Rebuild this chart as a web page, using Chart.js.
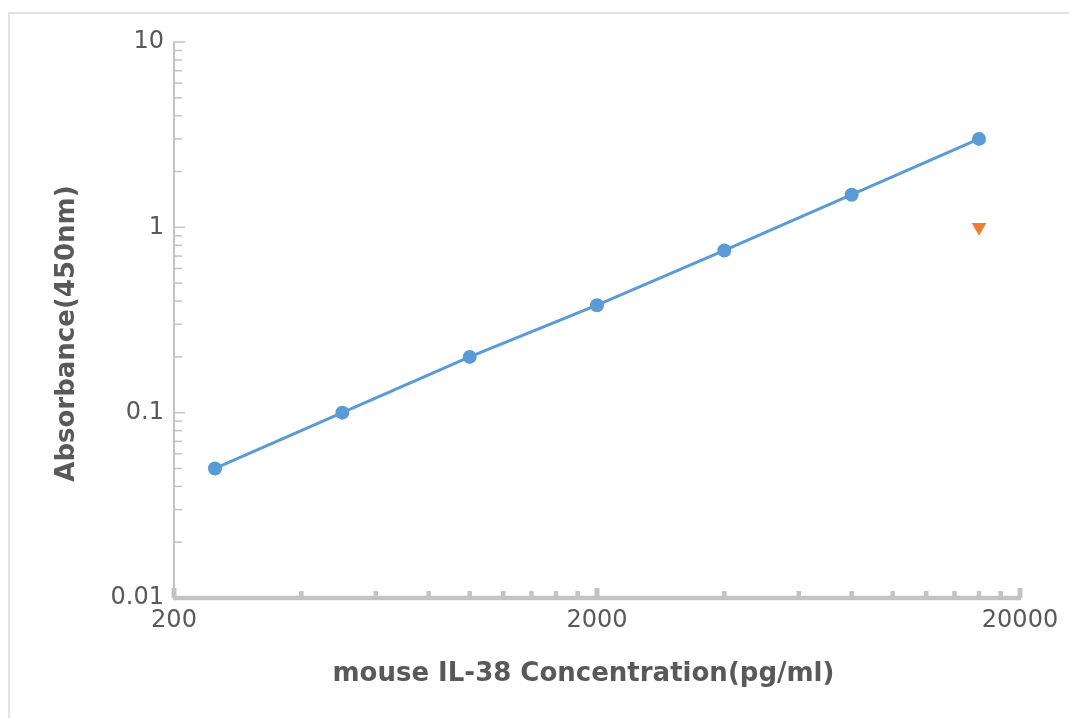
<!DOCTYPE html>
<html>
<head>
<meta charset="utf-8">
<title>mouse IL-38 standard curve</title>
<script src="https://cdn.jsdelivr.net/npm/chart.js@4.4.1/dist/chart.umd.min.js"></script>
<style>
  html, body { margin: 0; padding: 0; background: #fff; overflow: hidden; }
  #frame {
    position: absolute; left: 8px; top: 12px; width: 1080px; height: 720px;
    border-left: 2px solid #e2e2e2; border-top: 2px solid #e2e2e2;
  }
  #wrap { position: absolute; left: 0; top: 0; width: 1069px; height: 718px; }
</style>
</head>
<body>
<div id="frame"></div>
<div id="wrap"><canvas id="chart"></canvas></div>
<script>
// ── Data ────────────────────────────────────────────────────────────────────
const concentration = [250, 500, 1000, 2000, 4000, 8000, 16000];
const absorbance = [0.05, 0.1, 0.2, 0.38, 0.75, 1.5, 3.0];

const outlierConc = [16000];
const outlierAbs = [1.0];

const xTickLabels = [200, 2000, 20000];
const yTickLabels = [0.01, 0.1, 1, 10];

const xMinorTicks = [400, 600, 800, 1000, 1200, 1400, 1600, 1800,
                     4000, 6000, 8000, 10000, 12000, 14000, 16000, 18000];
const yMinorTicks = [0.02, 0.03, 0.04, 0.05, 0.06, 0.07, 0.08, 0.09,
                     0.2, 0.3, 0.4, 0.5, 0.6, 0.7, 0.8, 0.9,
                     2, 3, 4, 5, 6, 7, 8, 9];

const AXIS_GREY = "#c3c3c3";
const TEXT_GREY = "#595959";

// ── Axis lines + inward tick marks ──────────────────────────────────────────
const axisMarks = {
  id: "axisMarks",
  beforeDatasetsDraw(chart) {
    const { ctx, chartArea: { left, right, top, bottom }, scales } = chart;
    const xs = scales.x, ys = scales.y;
    ctx.save();
    ctx.fillStyle = AXIS_GREY;
    ctx.strokeStyle = AXIS_GREY;

    // y axis
    ctx.fillRect(left - 1, top, 2, bottom - top);
    ctx.lineWidth = 1.5;
    const hline = (y, len) => {
      ctx.beginPath();
      ctx.moveTo(left, y);
      ctx.lineTo(left + len, y);
      ctx.stroke();
    };
    yMinorTicks.forEach((v) => hline(ys.getPixelForValue(v), 8));
    yTickLabels.forEach((v) => hline(ys.getPixelForValue(v), 11));

    // x axis
    ctx.fillRect(left - 1, bottom - 2.25, right - left + 2, 4.5);
    xMinorTicks.forEach((v) => {
      const x = xs.getPixelForValue(v);
      ctx.fillRect(x - 2.25, bottom - 7, 4.5, 7);
    });
    xTickLabels.forEach((v) => {
      const x = xs.getPixelForValue(v);
      ctx.fillRect(x - 2.5, bottom - 10, 5, 10);
    });
    ctx.restore();
  },
};

const tickFont = { family: "'DejaVu Sans', sans-serif", size: 24 };
const titleFont = { family: "'DejaVu Sans', sans-serif", size: 26, weight: "bold" };

new Chart(document.getElementById("chart"), {
  type: "scatter",
  data: {
    datasets: [
      {
        label: "Standard",
        data: concentration.map((x, i) => ({ x, y: absorbance[i] })),
        showLine: true,
        borderColor: "#5b9bd5",
        backgroundColor: "#5b9bd5",
        borderWidth: 3,
        pointRadius: 7,
        pointBorderWidth: 0,
        pointHoverRadius: 7,
      },
      {
        label: "Sample",
        data: outlierConc.map((x, i) => ({ x, y: outlierAbs[i] })),
        pointStyle: "triangle",
        rotation: 180,
        pointRadius: 8.5,
        pointBorderWidth: 0,
        backgroundColor: "#ed7d31",
        borderColor: "#ed7d31",
      },
    ],
  },
  plugins: [axisMarks],
  options: {
    responsive: true,
    maintainAspectRatio: false,
    animation: false,
    layout: { padding: { top: 42, right: 49, left: 0, bottom: 0 } },
    plugins: {
      legend: { display: false },
      tooltip: { enabled: false },
    },
    scales: {
      x: {
        type: "logarithmic",
        min: 200,
        max: 20000,
        grid: { display: false, drawTicks: false },
        border: { display: false },
        afterBuildTicks: (s) => { s.ticks = xTickLabels.map((v) => ({ value: v })); },
        afterFit: (s) => { s.height = 120; },
        ticks: {
          autoSkip: false,
          maxRotation: 0,
          padding: 8,
          color: TEXT_GREY,
          font: tickFont,
          callback: (v) => String(v),
        },
        title: {
          display: true,
          // trailing spaces nudge the centred title a little to the left
          text: "mouse IL-38 Concentration(pg/ml)   ",
          color: TEXT_GREY,
          font: titleFont,
          padding: { top: 0, bottom: 28 },
        },
      },
      y: {
        type: "logarithmic",
        min: 0.01,
        max: 10,
        grid: { display: false, drawTicks: false },
        border: { display: false },
        afterBuildTicks: (s) => { s.ticks = yTickLabels.map((v) => ({ value: v })); },
        afterFit: (s) => { s.width = 174; },
        ticks: {
          autoSkip: false,
          padding: 10,
          color: TEXT_GREY,
          font: tickFont,
          callback: (v) => String(v),
        },
        title: {
          display: true,
          // same trick, pushes the rotated title slightly down
          text: "Absorbance(450nm)   ",
          color: TEXT_GREY,
          font: titleFont,
          padding: { top: 52, bottom: 0 },
        },
      },
    },
  },
});
</script>
</body>
</html>
